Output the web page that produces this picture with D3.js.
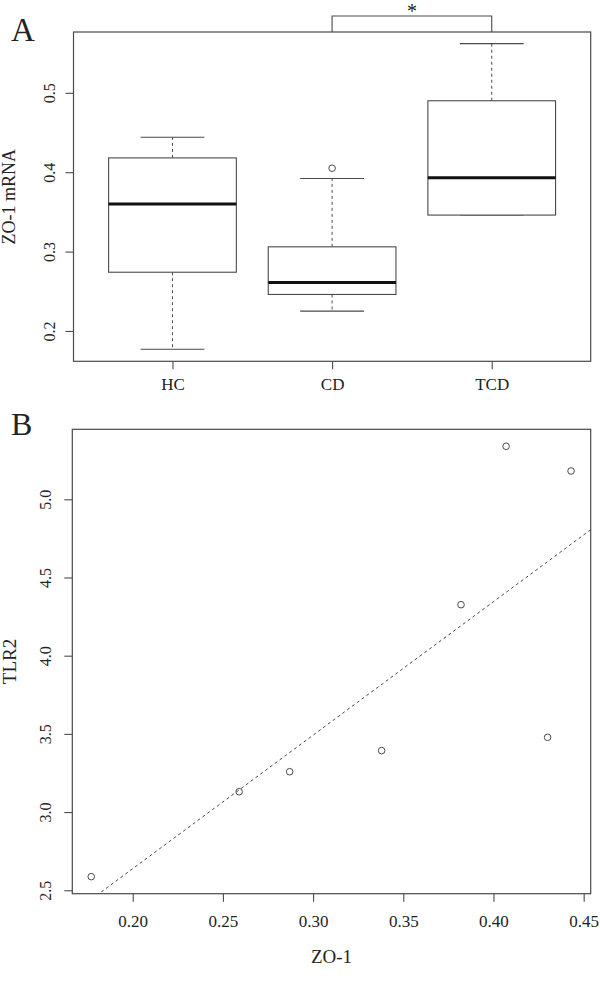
<!DOCTYPE html>
<html><head><meta charset="utf-8">
<script src="https://cdn.jsdelivr.net/npm/d3@7"></script>
<style>
body{margin:0;background:#fff}
text{font-family:"Liberation Serif","Times New Roman",serif;fill:#222}
</style>
</head><body><svg id="c" width="600" height="981"></svg>
<script>
// Panel A: box plot of ZO-1 mRNA
const groups = ["HC", "CD", "TCD"];
const whiskerLow = [0.177, 0.225, 0.346];
const q1 = [0.274, 0.246, 0.346];
const median = [0.360, 0.261, 0.393];
const q3 = [0.418, 0.306, 0.490];
const whiskerHigh = [0.444, 0.392, 0.562];
const outliers = [[], [0.405], []];
const yTicksA = [0.2, 0.3, 0.4, 0.5];

// Panel B: scatter TLR2 vs ZO-1
const zo1 = [0.177, 0.259, 0.287, 0.338, 0.382, 0.430, 0.407, 0.443];
const tlr2 = [2.587, 3.130, 3.258, 3.393, 4.326, 3.478, 5.339, 5.181];
const xTicksB = [0.20, 0.25, 0.30, 0.35, 0.40, 0.45];
const yTicksB = [2.5, 3.0, 3.5, 4.0, 4.5, 5.0];

const svg = d3.select("#c");
const LINE = "#4a4a4a";

// ---------- Panel A ----------
const A = {l: 73.5, t: 32, r: 590.7, b: 361.3};
const xA = d3.scaleLinear().domain([0.38, 3.62]).range([A.l, A.r]);
const yA = d3.scaleLinear().domain([0.1618, 0.5766]).range([A.b, A.t]);

const gA = svg.append("g");
gA.append("rect").attr("x", A.l).attr("y", A.t).attr("width", A.r - A.l).attr("height", A.b - A.t)
  .attr("fill", "none").attr("stroke", LINE).attr("stroke-width", 1.2);

const axYA = gA.append("g").attr("transform", `translate(${A.l},0)`)
  .call(d3.axisLeft(yA).tickValues(yTicksA).tickFormat(d3.format(".1f")).tickSize(8).tickSizeOuter(0));
axYA.select(".domain").remove();
axYA.selectAll("line").attr("stroke", LINE).attr("stroke-width", 1.1);
axYA.selectAll("text").attr("x", 0).attr("dy", 0).attr("text-anchor", "middle")
  .attr("transform", "translate(-19,0) rotate(-90)").style("font-size", "16px")
  .style("font-family", '"Liberation Serif",serif').attr("fill", "#222");

const axXA = gA.append("g").attr("transform", `translate(0,${A.b})`)
  .call(d3.axisBottom(xA).tickValues([1, 2, 3]).tickFormat((d, i) => groups[i]).tickSize(8).tickSizeOuter(0));
axXA.select(".domain").remove();
axXA.selectAll("line").attr("stroke", LINE).attr("stroke-width", 1.1);
axXA.selectAll("text").attr("y", 29).attr("dy", 0).style("font-size", "17px")
  .style("font-family", '"Liberation Serif",serif').attr("fill", "#222");

groups.forEach((g, i) => {
  const cx = xA(i + 1), hw = (xA(1.4) - xA(1)), cw = (xA(1.2) - xA(1));
  const bg = gA.append("g");
  // whiskers
  bg.append("line").attr("x1", cx).attr("x2", cx).attr("y1", yA(q3[i])).attr("y2", yA(whiskerHigh[i]))
    .attr("stroke", LINE).attr("stroke-dasharray", "3,3");
  bg.append("line").attr("x1", cx).attr("x2", cx).attr("y1", yA(q1[i])).attr("y2", yA(whiskerLow[i]))
    .attr("stroke", LINE).attr("stroke-dasharray", "3,3");
  bg.append("line").attr("x1", cx - cw).attr("x2", cx + cw).attr("y1", yA(whiskerHigh[i])).attr("y2", yA(whiskerHigh[i]))
    .attr("stroke", LINE).attr("stroke-width", 1.1);
  bg.append("line").attr("x1", cx - cw).attr("x2", cx + cw).attr("y1", yA(whiskerLow[i])).attr("y2", yA(whiskerLow[i]))
    .attr("stroke", LINE).attr("stroke-width", 1.1);
  // box
  bg.append("rect").attr("x", cx - hw).attr("width", 2 * hw).attr("y", yA(q3[i])).attr("height", yA(q1[i]) - yA(q3[i]))
    .attr("fill", "#fff").attr("stroke", LINE).attr("stroke-width", 1.1);
  bg.append("line").attr("x1", cx - hw).attr("x2", cx + hw).attr("y1", yA(median[i])).attr("y2", yA(median[i]))
    .attr("stroke", "#111").attr("stroke-width", 3);
  outliers[i].forEach(o => {
    bg.append("circle").attr("cx", cx).attr("cy", yA(o)).attr("r", 3.3)
      .attr("fill", "none").attr("stroke", LINE).attr("stroke-width", 1);
  });
});

// significance bracket CD vs TCD
const brY = 16;
gA.append("path")
  .attr("d", `M${xA(2)},${A.t}V${brY}H${xA(3)}V${A.t}`)
  .attr("fill", "none").attr("stroke", LINE).attr("stroke-width", 1.1);
gA.append("text").attr("x", (xA(2) + xA(3)) / 2).attr("y", 18).attr("text-anchor", "middle")
  .style("font-size", "20px").text("*");

gA.append("text").attr("x", 11).attr("y", 41).style("font-size", "33px").text("A");
gA.append("text").attr("transform", `translate(15,${(A.t + A.b) / 2}) rotate(-90)`)
  .attr("text-anchor", "middle").style("font-size", "18px").text("ZO-1 mRNA");

// ---------- Panel B ----------
const B = {l: 72.3, t: 429.3, r: 590.7, b: 893.7};
const xB = d3.scaleLinear().domain([0.1665, 0.4539]).range([B.l, B.r]);
const yB = d3.scaleLinear().domain([2.478, 5.4476]).range([B.b, B.t]);

const gB = svg.append("g");
gB.append("rect").attr("x", B.l).attr("y", B.t).attr("width", B.r - B.l).attr("height", B.b - B.t)
  .attr("fill", "none").attr("stroke", LINE).attr("stroke-width", 1.2);

const axYB = gB.append("g").attr("transform", `translate(${B.l},0)`)
  .call(d3.axisLeft(yB).tickValues(yTicksB).tickFormat(d3.format(".1f")).tickSize(8).tickSizeOuter(0));
axYB.select(".domain").remove();
axYB.selectAll("line").attr("stroke", LINE).attr("stroke-width", 1.1);
axYB.selectAll("text").attr("x", 0).attr("dy", 0).attr("text-anchor", "middle")
  .attr("transform", "translate(-21,0) rotate(-90)").style("font-size", "16px")
  .style("font-family", '"Liberation Serif",serif').attr("fill", "#222");

const axXB = gB.append("g").attr("transform", `translate(0,${B.b})`)
  .call(d3.axisBottom(xB).tickValues(xTicksB).tickFormat(d3.format(".2f")).tickSize(8).tickSizeOuter(0));
axXB.select(".domain").remove();
axXB.selectAll("line").attr("stroke", LINE).attr("stroke-width", 1.1);
axXB.selectAll("text").attr("y", 33).attr("dy", 0).style("font-size", "17px")
  .style("font-family", '"Liberation Serif",serif').attr("fill", "#222");

// least-squares regression line
const mx = d3.mean(zo1), my = d3.mean(tlr2);
const sxy = d3.sum(zo1.map((x, i) => (x - mx) * (tlr2[i] - my)));
const sxx = d3.sum(zo1.map(x => (x - mx) ** 2));
const slope = sxy / sxx, icpt = my - slope * mx;
svg.append("defs").append("clipPath").attr("id", "clipB").append("rect")
  .attr("x", B.l).attr("y", B.t).attr("width", B.r - B.l).attr("height", B.b - B.t);
const xd = xB.domain();
gB.append("line").attr("clip-path", "url(#clipB)")
  .attr("x1", xB(xd[0])).attr("y1", yB(icpt + slope * xd[0]))
  .attr("x2", xB(xd[1])).attr("y2", yB(icpt + slope * xd[1]))
  .attr("stroke", LINE).attr("stroke-width", 1).attr("stroke-dasharray", "3,3");

gB.selectAll("circle.pt").data(zo1).join("circle").attr("class", "pt")
  .attr("cx", d => xB(d)).attr("cy", (d, i) => yB(tlr2[i])).attr("r", 3.3)
  .attr("fill", "none").attr("stroke", LINE).attr("stroke-width", 1);

gB.append("text").attr("x", 11).attr("y", 435).style("font-size", "32px").text("B");
gB.append("text").attr("transform", `translate(16,${(B.t + B.b) / 2}) rotate(-90)`)
  .attr("text-anchor", "middle").style("font-size", "19px").text("TLR2");
gB.append("text").attr("x", (B.l + B.r) / 2).attr("y", 963).attr("text-anchor", "middle")
  .style("font-size", "19px").text("ZO-1");
</script>
</body></html>
